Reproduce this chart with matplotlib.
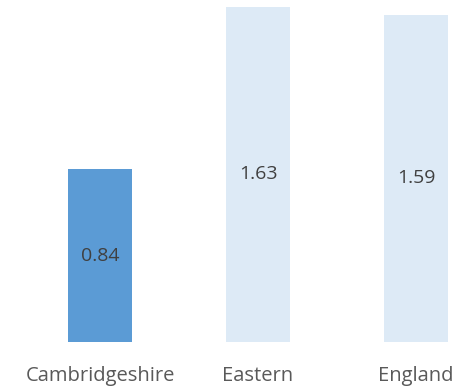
import matplotlib
matplotlib.use("Agg")
import matplotlib.pyplot as plt

categories = ["Cambridgeshire", "Eastern", "England"]
values = [0.84, 1.63, 1.59]
colors = ["#5B9BD5", "#DDEAF6", "#DDEAF6"]

plt.rcParams['font.family'] = ['Open Sans', 'DejaVu Sans']

fig = plt.figure(figsize=(4.63, 3.88), dpi=100)
ax = fig.add_axes([0, 46/388, 1, 342/388])
x = list(range(len(categories)))
bars = ax.bar(x, values, width=0.405, color=colors)
for xi, v in zip(x, values):
    ax.text(xi, v / 2, f"{v:.2f}", ha="center", va="center", fontsize=14, color="#404040")
ax.set_xlim(-100/158, 2 + 47/158)
ax.set_ylim(0, 342/205.7)
for s in ax.spines.values():
    s.set_visible(False)
ax.set_yticks([])
ax.set_xticks(x)
ax.set_xticklabels(categories, fontsize=14.5, color="#595959")
ax.tick_params(axis="x", length=0, pad=17.5)
fig.savefig("out.png", dpi=100)
